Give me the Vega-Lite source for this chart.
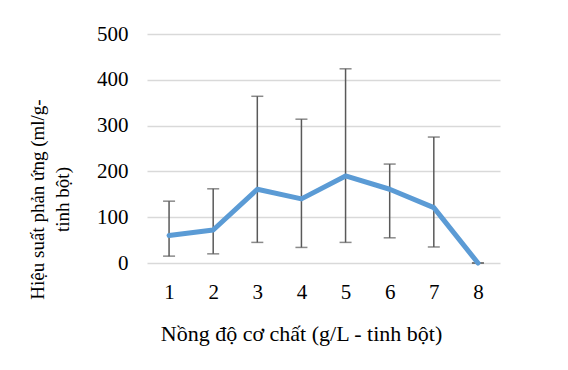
{
  "$schema": "https://vega.github.io/schema/vega-lite/v6.json",
  "width": 353,
  "height": 229,
  "autosize": {"type": "none"},
  "padding": {"left": 147, "top": 34, "right": 68, "bottom": 107},
  "background": "white",
  "config": {
    "view": {"stroke": null},
    "font": "Liberation Serif",
    "axis": {"labelFont": "Liberation Serif", "titleFont": "Liberation Serif", "labelColor": "#000000", "titleColor": "#000000", "titleFontWeight": "normal"}
  },
  "data": {
    "values": [
      {"x": 1, "y": 60, "low": 15, "high": 135},
      {"x": 2, "y": 72, "low": 20, "high": 162},
      {"x": 3, "y": 161, "low": 45, "high": 364},
      {"x": 4, "y": 140, "low": 34, "high": 314},
      {"x": 5, "y": 190, "low": 45, "high": 424},
      {"x": 6, "y": 161, "low": 55, "high": 216},
      {"x": 7, "y": 121, "low": 35, "high": 275},
      {"x": 8, "y": 0, "low": 0, "high": 0}
    ]
  },
  "encoding": {
    "x": {
      "field": "x",
      "type": "ordinal",
      "scale": {"type": "point", "padding": 0.5},
      "axis": {
        "title": "Nồng độ cơ chất (g/L - tinh bột)",
        "labelAngle": 0,
        "labelFont": "Liberation Serif",
        "labelColor": "#000000",
        "labelFontSize": 21,
        "titleFont": "Liberation Serif",
        "titleFontSize": 22,
        "titleX": 154,
        "titleAnchor": "middle",
        "domain": false,
        "ticks": false,
        "labelPadding": 18,
        "titlePadding": 21
      }
    }
  },
  "layer": [
    {
      "mark": {"type": "errorbar", "ticks": {"size": 12, "thickness": 1.5, "color": "#595959"}, "rule": {"strokeWidth": 1.5, "color": "#595959"}, "color": "#595959"},
      "encoding": {
        "y": {
          "field": "low",
          "type": "quantitative",
          "scale": {"domain": [0, 500]},
          "axis": {
            "title": ["Hiệu suất phản ứng (ml/g-", "tinh bột)"],
            "titleFont": "Liberation Serif",
            "titleFontSize": 19,
            "titleLineHeight": 25,
            "titleAngle": -90,
            "titleX": -110,
            "titleY": 165,
            "titleAlign": "center",
            "titleBaseline": "middle",
            "values": [0, 100, 200, 300, 400, 500],
            "labelFont": "Liberation Serif",
            "labelColor": "#000000",
            "labelFontSize": 21,
            "labelPadding": 19,
            "domain": false,
            "ticks": false,
            "grid": true,
            "gridColor": "#d9d9d9",
            "gridWidth": 1.5
          }
        },
        "y2": {"field": "high"}
      }
    },
    {
      "mark": {"type": "line", "color": "#5B9BD5", "strokeWidth": 5, "strokeCap": "round", "strokeJoin": "round"},
      "encoding": {"y": {"field": "y", "type": "quantitative"}}
    }
  ]
}
